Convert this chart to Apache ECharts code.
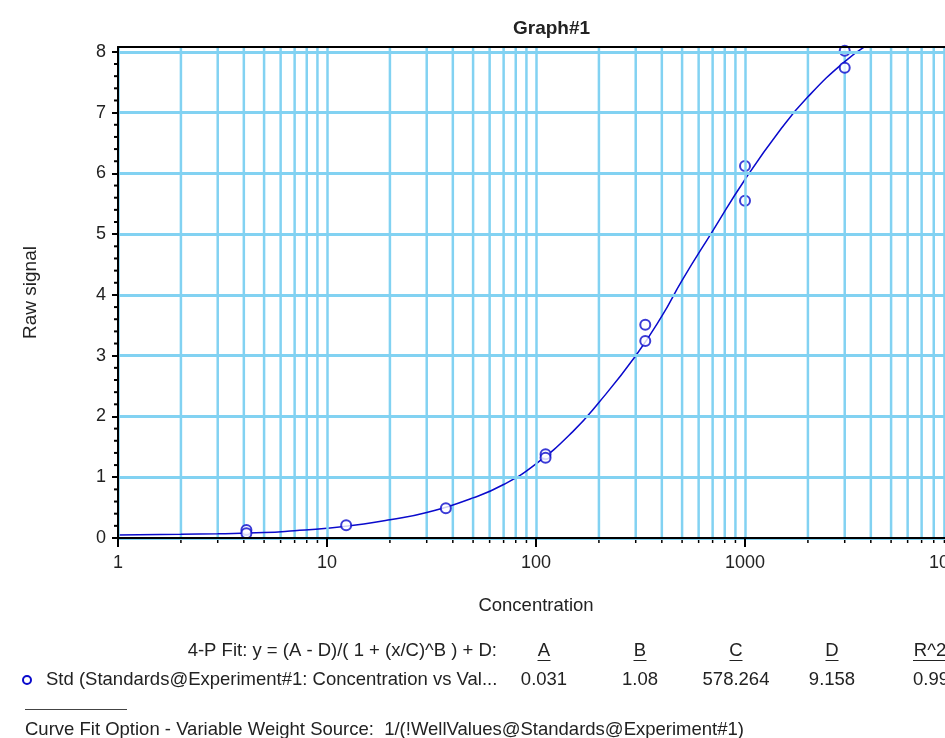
<!DOCTYPE html>
<html lang="en" style="height: 100%">
<head>
  <meta charset="utf-8" />
</head>
<body style="height: 100%; margin: 0; background: #fff">
  <div id="container" style="width: 945px; height: 738px"></div>
  <script src="https://cdn.jsdelivr.net/npm/echarts@6/dist/echarts.min.js"></script>
  <script type="text/javascript">
    // standards: concentration vs raw signal (replicates)
    var stdConc = [4.115, 4.115, 12.35, 37.04, 111.1, 111.1, 333.3, 333.3, 1000, 1000, 3000, 3000];
    var stdSignal = [0.13, 0.08, 0.21, 0.49, 1.38, 1.32, 3.51, 3.24, 6.12, 5.55, 8.02, 7.74];

    // fitted 4-P curve
    var fitConc = [1, 2, 3, 5, 7, 10, 15, 20, 30, 50, 70, 100, 150, 200, 300, 400, 500, 700, 1000, 1500, 2000, 3000, 4000];
    var fitSignal = [0.05, 0.06, 0.07, 0.09, 0.12, 0.16, 0.23, 0.3, 0.42, 0.66, 0.88, 1.22, 1.75, 2.23, 3.0, 3.65, 4.24, 5.05, 5.9, 6.75, 7.26, 7.84, 8.15];

    var yTicks = [0, 1, 2, 3, 4, 5, 6, 7, 8];
    var xMinor = [2, 3, 4, 5, 6, 7, 8, 9, 20, 30, 40, 50, 60, 70, 80, 90,
      200, 300, 400, 500, 600, 700, 800, 900, 2000, 3000, 4000, 5000, 6000, 7000, 8000, 9000];

    var fitParams = ["0.031", "1.08", "578.264", "9.158", "0.998"];
    var fitHeaders = ["A", "B", "C", "D", "R^2"];

    var yMax = 8.08;
    var yMinor = [];
    for (var i = 0; i < 8; i++) {
      for (var k = 1; k < 5; k++) yMinor.push(i + k * 0.2);
    }

    var gridColor = "#82d2f2";
    var blue = "#0a0acc";
    var font = "Liberation Sans, Arial, sans-serif";
    var txt = "18.5px " + font;

    var dom = document.getElementById("container");
    var myChart = echarts.init(dom, null, { renderer: "canvas" });

    var stdData = stdConc.map(function (c, i) { return [c, stdSignal[i]]; });
    var fitData = fitConc.map(function (c, i) { return [c, fitSignal[i]]; });

    var colX = [544, 640, 736, 832];
    var graphics = [
      {
        type: "text", x: 497, y: 651,
        style: { text: "4-P Fit: y = (A - D)/( 1 + (x/C)^B ) + D:", font: txt, fill: "#222", align: "right", verticalAlign: "middle" }
      },
      {
        type: "circle", shape: { cx: 27, cy: 680, r: 4 },
        style: { fill: "none", stroke: blue, lineWidth: 2 }
      },
      {
        type: "text", x: 46, y: 680,
        style: { text: "Std (Standards@Experiment#1: Concentration vs Val...", font: txt, fill: "#222", verticalAlign: "middle" }
      },
      {
        type: "line", shape: { x1: 25, y1: 709.5, x2: 127, y2: 709.5 },
        style: { stroke: "#444", lineWidth: 1 }
      },
      {
        type: "text", x: 25, y: 730,
        style: { text: "Curve Fit Option - Variable Weight Source:  1/(!WellValues@Standards@Experiment#1)", font: txt, fill: "#222", verticalAlign: "middle" }
      }
    ];
    fitHeaders.forEach(function (h, i) {
      var cx = i < 4 ? colX[i] : 930;
      graphics.push({
        type: "text", x: cx, y: 651,
        style: { text: h, font: txt, fill: "#222", align: "center", verticalAlign: "middle" }
      });
      var w = h.length === 1 ? 13 : 34;
      graphics.push({
        type: "line", shape: { x1: cx - w / 2, y1: 660.5, x2: cx + w / 2, y2: 660.5 },
        style: { stroke: "#222", lineWidth: 1 }
      });
    });
    fitParams.forEach(function (v, i) {
      graphics.push({
        type: "text", x: i < 4 ? colX[i] : 913, y: 680,
        style: { text: v, font: txt, fill: "#222", align: i < 4 ? "center" : "left", verticalAlign: "middle" }
      });
    });

    var option = {
      animation: false,
      backgroundColor: "#fff",
      title: {
        text: "Graph#1",
        left: 508,
        top: 14,
        textStyle: { fontFamily: font, fontSize: 19, fontWeight: "bold", color: "#222" }
      },
      grid: { left: 118, right: -9, top: 47, bottom: 200, outerBoundsMode: "none", containLabel: false },
      xAxis: [
        {
          type: "log",
          logBase: 10,
          min: 1,
          max: 10000,
          z: 5,
          name: "Concentration",
          nameLocation: "middle",
          nameGap: 58,
          nameTextStyle: { fontFamily: font, fontSize: 18.5, color: "#222" },
          axisLine: { lineStyle: { color: "#000", width: 2 } },
          axisTick: { length: 9, lineStyle: { color: "#000", width: 2 } },
          axisLabel: {
            margin: 16, fontFamily: font, fontSize: 18, color: "#222",
            formatter: function (v) { return String(Math.round(v)); }
          },
          splitLine: { show: true, lineStyle: { color: gridColor, width: 2.5 } }
        },
        {
          type: "value",
          position: "top",
          min: 0,
          max: 1,
          z: 5,
          axisLine: { show: true, lineStyle: { color: "#000", width: 2 } },
          axisTick: { show: false },
          axisLabel: { show: false },
          splitLine: { show: false }
        }
      ],
      yAxis: {
        type: "value",
        min: 0,
        max: yMax,
        interval: 1,
        z: 5,
        name: "Raw signal",
        nameLocation: "middle",
        nameGap: 78,
        nameTextStyle: { fontFamily: font, fontSize: 19, color: "#222" },
        axisLine: { show: true, lineStyle: { color: "#000", width: 2 } },
        axisTick: { show: true, length: 6, customValues: yTicks, lineStyle: { color: "#000", width: 2 } },
        axisLabel: { customValues: yTicks, margin: 12, fontFamily: font, fontSize: 18, color: "#222" },
        splitLine: { show: true, lineStyle: { color: gridColor, width: 3 } }
      },
      series: [
        {
          // minor log gridlines and their ticks on the x axis
          type: "custom",
          name: "xMinor",
          silent: true,
          clip: false,
          z: 0,
          data: xMinor.map(function (v) { return [v, 0]; }),
          renderItem: function (params, api) {
            var bot = api.coord([api.value(0), 0]);
            var top = api.coord([api.value(0), yMax]);
            return {
              type: "group",
              children: [
                { type: "line", shape: { x1: bot[0], y1: bot[1], x2: top[0], y2: top[1] }, style: { stroke: gridColor, lineWidth: 2.5 } },
                { type: "line", shape: { x1: bot[0], y1: bot[1], x2: bot[0], y2: bot[1] + 5 }, style: { stroke: "#000", lineWidth: 1.5 } }
              ]
            };
          }
        },
        {
          // minor ticks on the y axis
          type: "custom",
          name: "yMinor",
          silent: true,
          clip: false,
          z: 0,
          data: yMinor.map(function (v) { return [1, v]; }),
          renderItem: function (params, api) {
            var p = api.coord([1, api.value(1)]);
            return {
              type: "line",
              shape: { x1: p[0] - 4, y1: p[1], x2: p[0], y2: p[1] },
              style: { stroke: "#000", lineWidth: 2 }
            };
          }
        },
        {
          name: "Fit",
          type: "line",
          smooth: true,
          showSymbol: false,
          data: fitData,
          z: 3,
          lineStyle: { color: blue, width: 1.5 }
        },
        {
          name: "Std",
          type: "scatter",
          symbol: "emptyCircle",
          symbolSize: 10,
          data: stdData,
          z: 4,
          itemStyle: { color: blue, borderColor: blue, borderWidth: 2 }
        }
      ],
      graphic: graphics
    };

    myChart.setOption(option);
    window.addEventListener("resize", myChart.resize);
  </script>
</body>
</html>
